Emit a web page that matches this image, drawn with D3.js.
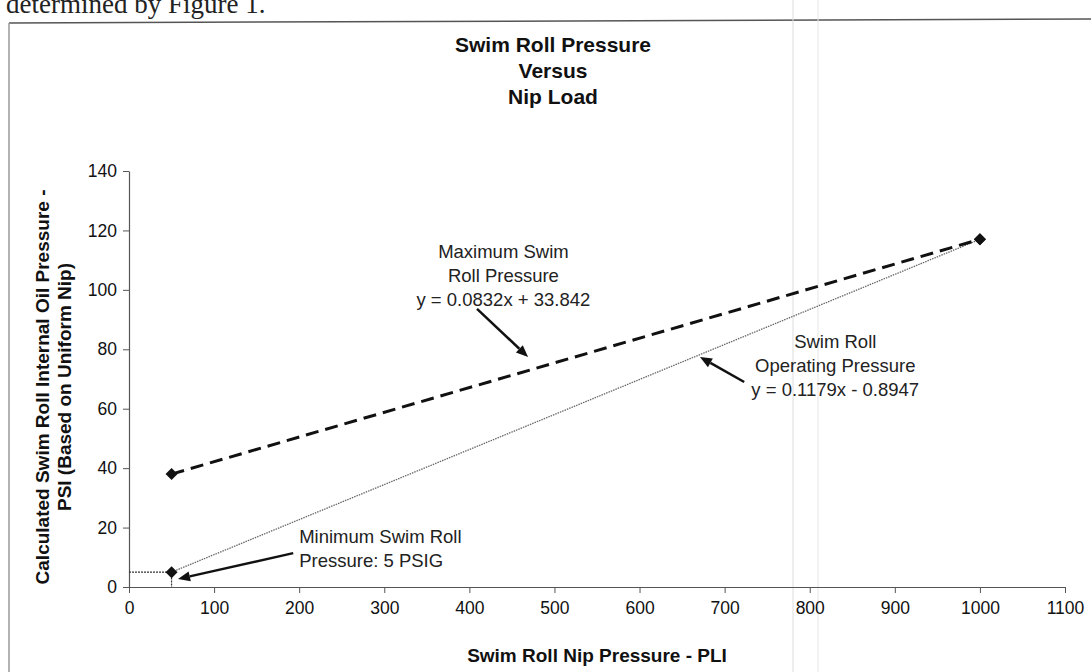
<!DOCTYPE html>
<html><head><meta charset="utf-8">
<script src="https://cdn.jsdelivr.net/npm/d3@7"></script>
<style>body{margin:0;background:#fff}svg{display:block}text{font-family:"Liberation Sans",Arial,sans-serif}</style>
</head><body>
<svg id="c" width="1091" height="672"></svg>
<script>
// ---- data ----
const titleLines = ["Swim Roll Pressure", "Versus", "Nip Load"];
const xAxisTitle = "Swim Roll Nip Pressure - PLI";
const yAxisTitle = ["Calculated Swim Roll Internal Oil Pressure -", "PSI (Based on Uniform Nip)"];
const xTicks = [0, 100, 200, 300, 400, 500, 600, 700, 800, 900, 1000, 1100];
const yTicks = [0, 20, 40, 60, 80, 100, 120, 140];
const maxX = [50, 1000];
const maxY = [38, 117];
const opX = [50, 1000];
const opY = [5, 117];
const minPressure = 5;
const minLoad = 50;
const maxLabel = ["Maximum Swim", "Roll Pressure", "y = 0.0832x + 33.842"];
const opLabel = ["Swim Roll", "Operating Pressure", "y = 0.1179x - 0.8947"];
const minLabel = ["Minimum Swim Roll", "Pressure: 5 PSIG"];
// annotation anchors in data units
const maxLabelAt = [440, 110.7];
const maxArrow = [[409, 93.6], [469, 77.4]];
const opLabelAt = [830, 80.4];
const opArrow = [[723, 69.0], [671, 77.4]];
const minLabelAt = [200, 14.8];
const minArrow = [[193, 11.4], [57.6, 2.7]];

const svg = d3.select("#c");
const x = d3.scaleLinear().domain([0, 1100]).range([129, 1065]);
const y = d3.scaleLinear().domain([0, 140]).range([587, 171]);

// page text & frame (scan)
svg.append("text").attr("x", 6).attr("y", 13).style("font-family","Liberation Serif, serif")
  .attr("font-size", 27).attr("fill", "#222").text("determined by Figure 1.");
svg.append("line").attr("x1", 9).attr("y1", 23).attr("x2", 1091).attr("y2", 19).attr("stroke", "#555").attr("stroke-width", 1.5);
svg.append("line").attr("x1", 9).attr("y1", 23).attr("x2", 9).attr("y2", 672).attr("stroke", "#999").attr("stroke-width", 1.5);
svg.append("line").attr("x1", 793).attr("y1", 0).attr("x2", 793).attr("y2", 672).attr("stroke", "#ddd").attr("stroke-width", 1);
svg.append("line").attr("x1", 818).attr("y1", 0).attr("x2", 818).attr("y2", 672).attr("stroke", "#e6e6e6").attr("stroke-width", 1);

// title
svg.append("g").selectAll("text").data(titleLines).join("text")
  .attr("x", 553).attr("y", (d, i) => 52 + i * 26).attr("text-anchor", "middle")
  .attr("font-size", 21).attr("font-weight", "bold").attr("fill", "#111").text(d => d);

// axes
const xa = svg.append("g").attr("transform", `translate(0,${y(0)})`)
  .call(d3.axisBottom(x).tickValues(xTicks).tickFormat(d3.format("d")).tickSize(6).tickPadding(9).tickSizeOuter(0));
const ya = svg.append("g").attr("transform", `translate(${x(0)},0)`)
  .call(d3.axisLeft(y).tickValues(yTicks).tickFormat(d3.format("d")).tickSize(6).tickPadding(6).tickSizeOuter(0));
[xa, ya].forEach(g => {
  g.select(".domain").attr("stroke", "#555").attr("stroke-width", 1.2);
  g.selectAll(".tick line").attr("stroke", "#555");
  g.selectAll(".tick text").attr("font-size", 17.5).attr("fill", "#111").style("font-family", "Liberation Sans, Arial, sans-serif");
});

// axis titles
svg.append("text").attr("x", (x(0) + x(1100)) / 2).attr("y", 662).attr("text-anchor", "middle")
  .attr("font-size", 19).attr("font-weight", "bold").attr("fill", "#111").text(xAxisTitle);
svg.append("g").attr("transform", `translate(0,${(y(0) + y(140)) / 2 + 8}) rotate(-90)`)
  .selectAll("text").data(yAxisTitle).join("text")
  .attr("x", 0).attr("y", (d, i) => 49 + i * 22).attr("text-anchor", "middle")
  .attr("font-size", 19).attr("font-weight", "bold").attr("fill", "#111").text(d => d);

// reference lines for minimum
svg.append("path").attr("d", d3.line()([[x(0), y(minPressure)], [x(minLoad), y(minPressure)], [x(minLoad), y(0)]]))
  .attr("fill", "none").attr("stroke", "#333").attr("stroke-width", 1.2).attr("stroke-dasharray", "2,1");

// series
const line = d3.line().x(d => x(d[0])).y(d => y(d[1]));
const opPts = d3.zip(opX, opY), maxPts = d3.zip(maxX, maxY);
svg.append("path").attr("d", line(opPts)).attr("fill", "none").attr("stroke", "#666").attr("stroke-width", 1.3).attr("stroke-dasharray", "1.5,1");
svg.append("path").attr("d", line(maxPts)).attr("fill", "none").attr("stroke", "#111").attr("stroke-width", 3).attr("stroke-dasharray", "13,7");
const r = 6;
svg.append("g").selectAll("path").data(opPts.concat(maxPts)).join("path")
  .attr("transform", d => `translate(${x(d[0])},${y(d[1])})`)
  .attr("d", `M0,${-r}L${r},0L0,${r}L${-r},0Z`).attr("fill", "#111");

// annotations
function label(lines, at, anchor) {
  svg.append("g").selectAll("text").data(lines).join("text")
    .attr("x", x(at[0])).attr("y", (d, i) => y(at[1]) + i * 24).attr("text-anchor", anchor)
    .attr("font-size", 18.5).attr("fill", "#222").text(d => d);
}
label(maxLabel, maxLabelAt, "middle");
label(opLabel, opLabelAt, "middle");
label(minLabel, minLabelAt, "start");

function arrow(a) {
  const [p0, p1] = a.map(d => [x(d[0]), y(d[1])]);
  const ang = Math.atan2(p1[1] - p0[1], p1[0] - p0[0]);
  const L = 12, W = 5;
  const bx = p1[0] - L * Math.cos(ang), by = p1[1] - L * Math.sin(ang);
  svg.append("line").attr("x1", p0[0]).attr("y1", p0[1]).attr("x2", bx).attr("y2", by).attr("stroke", "#111").attr("stroke-width", 2.5);
  svg.append("path").attr("d", d3.line()([p1, [bx + W * Math.sin(ang), by - W * Math.cos(ang)], [bx - W * Math.sin(ang), by + W * Math.cos(ang)]]) + "Z").attr("fill", "#111");
}
arrow(maxArrow); arrow(opArrow); arrow(minArrow);
</script>
</body></html>
